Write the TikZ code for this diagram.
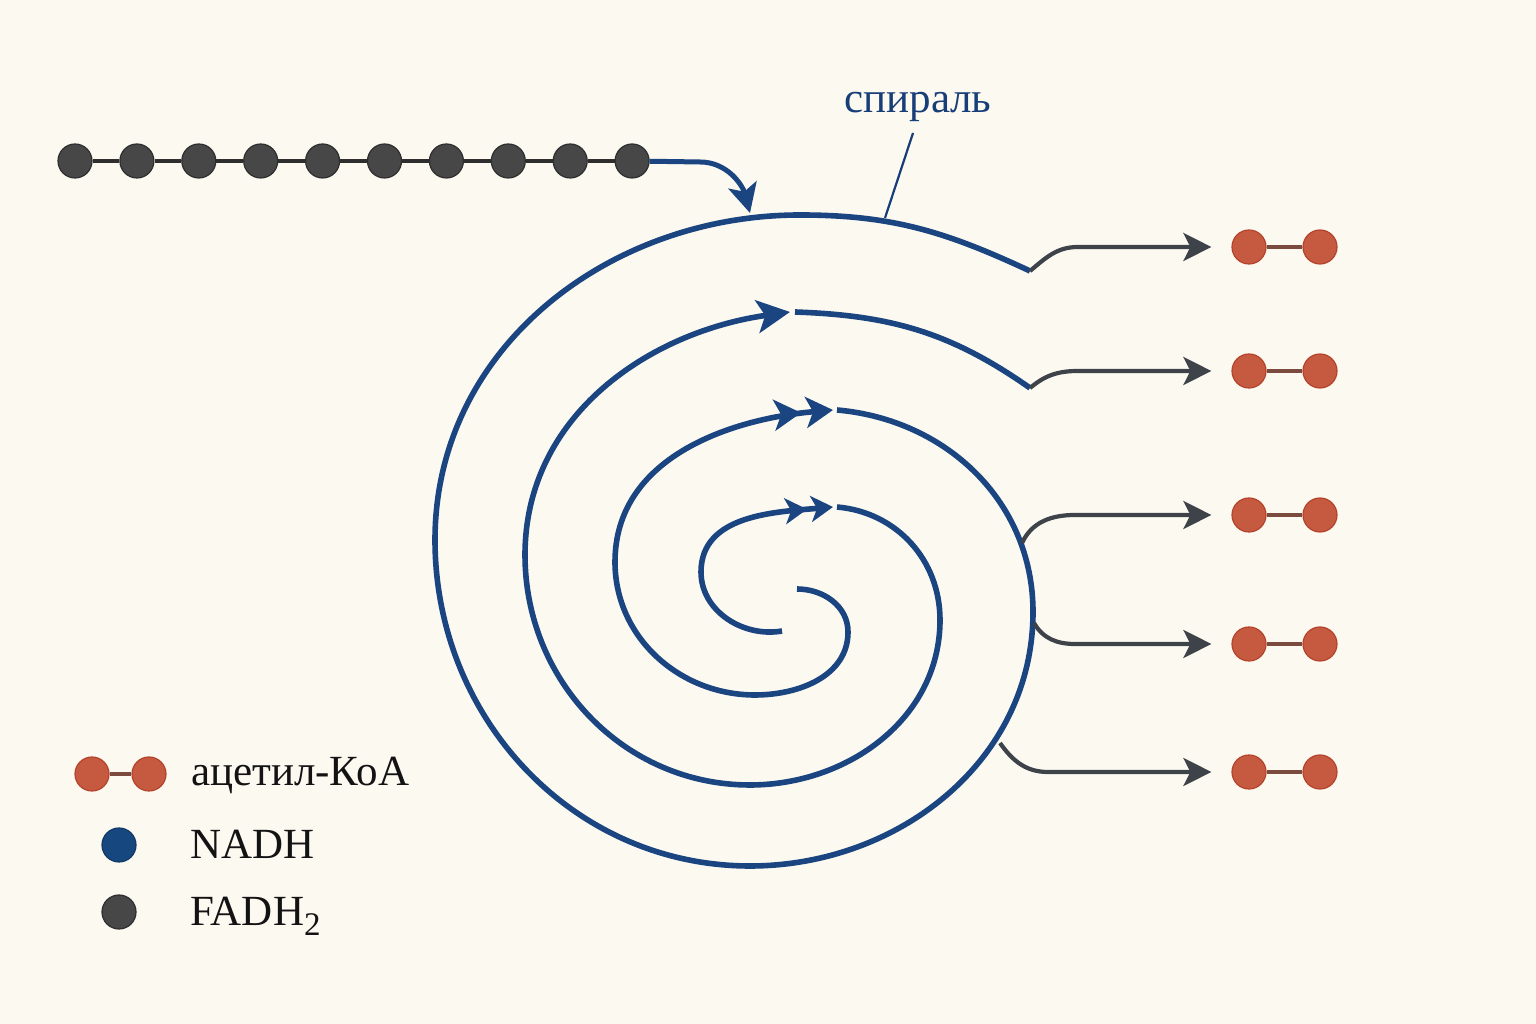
\documentclass[tikz,border=0pt]{standalone}
\usepackage{fontspec}
\setmainfont{Liberation Serif}
\usetikzlibrary{arrows.meta}
\definecolor{bg}{HTML}{FCF9F1}
\definecolor{sblue}{HTML}{1B4581}
\definecolor{lblue}{HTML}{173E78}
\definecolor{cgray}{HTML}{3E434A}
\definecolor{chainfill}{HTML}{474747}
\definecolor{chainedge}{HTML}{2E2E2E}
\definecolor{acfill}{HTML}{C65A40}
\definecolor{acedge}{HTML}{B4432C}
\definecolor{acbar}{HTML}{7A4B3E}
\definecolor{nadh}{HTML}{17477F}
\definecolor{txt}{HTML}{131313}
\begin{document}
\begin{tikzpicture}[x=1pt,y=1pt,
  chainatom/.style={circle, fill=chainfill, draw=chainedge, line width=1.2pt, minimum size=34pt, inner sep=0pt},
  acatom/.style={circle, fill=acfill, draw=acedge, line width=1.2pt, minimum size=34pt, inner sep=0pt},
  nadhatom/.style={circle, fill=nadh, draw=nadh!80!black, line width=1.2pt, minimum size=34pt, inner sep=0pt},
  bond/.style={draw=chainedge, line width=4pt},
  acbond/.style={draw=acbar, line width=3.5pt},
  spiralline/.style={draw=sblue, line width=5.6pt},
  outarrow/.style={draw=cgray, line width=4.2pt, shorten >=20pt, -{Stealth[length=28pt,width=28pt,inset=7pt]}},
  leader/.style={draw=lblue, line width=2.2pt},
  lbl/.style={font=\fontsize{43}{48}\selectfont, text=txt, anchor=base west, inner sep=0pt}]
\useasboundingbox (0,0) rectangle (1536,1024);
\fill[bg] (0,0) rectangle (1536,1024);

% fatty acid chain
\foreach \i in {1,...,10} \node[chainatom] (ch\i) at ({75+61.9*(\i-1)},863) {};
\foreach \i [evaluate=\i as \j using int(\i+1)] in {1,...,9} \draw[bond] (ch\i) -- (ch\j);

% acetyl-CoA products
\foreach \k/\yy in {1/777,2/653,3/509,4/380,5/252}{
  \node[acatom] (aL\k) at (1249,\yy) {};
  \node[acatom] (aR\k) at (1320,\yy) {};
  \draw[acbond] (aL\k) -- (aR\k);
}

% junction coordinates
\coordinate (V1) at (1030,753);
\coordinate (V2) at (1030,636);
\coordinate (B3) at (1022,481);
\coordinate (B4) at (1034,401);
\coordinate (B5) at (1000,281);

% spiral 2 (inner part)
\draw[spiralline, -{Stealth[length=27pt,width=31pt,inset=7pt,sep=5pt]Stealth[length=27pt,width=31pt,inset=7pt]}]
  (797,435) to[out=0,in=90] (848,392) to[out=-90,in=0] (755,329)
  to[out=180,in=-90] (615,462) to[out=90,in=185] (833,614);
% spiral 2 (outer part)
\draw[spiralline] (837,614) to[out=-5,in=90] (1033,412) to[out=-90,in=0] (750,158)
  to[out=180,in=-90] (435,484) to[out=90,in=180] (800,809) to[out=0,in=155] (V1);

% spiral 1 (inner part)
\draw[spiralline, -{Stealth[length=22pt,width=26pt,inset=6pt,sep=4pt]Stealth[length=22pt,width=26pt,inset=6pt]}]
  (782,393) to[out=190,in=-90] (701,452) to[out=90,in=185] (833,517);
% spiral 1 (middle)
\draw[spiralline, -{Stealth[length=33pt,width=33pt,inset=8pt]}]
  (837,517) to[out=-5,in=90] (940,404) to[out=-90,in=0] (750,239)
  to[out=180,in=-90] (525,469) to[out=90,in=188] (790,712);
% spiral 1 (outer)
\draw[spiralline] (795,712) to[out=-2,in=145] (V2);

% incoming arrow
\draw[spiralline, line width=5pt, -{Stealth[length=29pt,width=29pt,inset=7pt]}]
  (ch10) -- (700,862) to[out=0,in=105] (750,811);

% outgoing connectors
\draw[outarrow] (V1) to[out=40,in=180] (1078,777) -- (aL1);
\draw[outarrow] (V2) to[out=40,in=180] (1078,653) -- (aL2);
\draw[outarrow] (B3) to[out=65,in=180] (1075,509) -- (aL3);
\draw[outarrow] (B4) to[out=-60,in=180] (1075,380) -- (aL4);
\draw[outarrow] (B5) to[out=-55,in=180] (1048,252) -- (aL5);

% label
\node[lbl, text=lblue, anchor=base] (spl) at (918,911) {спираль};
\coordinate (ltop) at (913,891);
\coordinate (ltip) at (885,806);
\draw[leader] (ltop) -- (ltip);

% legend
\node[acatom] (lgA1) at (92,250) {};
\node[acatom] (lgA2) at (149,250) {};
\draw[acbond] (lgA1) -- (lgA2);
\node[nadhatom] (lgN) at (119,179) {};
\node[chainatom] (lgF) at (119,112) {};
\node[lbl] (tA) at (191,238) {ацетил-КоА};
\node[lbl] (tN) at (190,165) {NADH};
\node[lbl] (tF) at (190,98) {FADH\raisebox{-10pt}{\fontsize{33}{33}\selectfont 2}};
\end{tikzpicture}
\end{document}
